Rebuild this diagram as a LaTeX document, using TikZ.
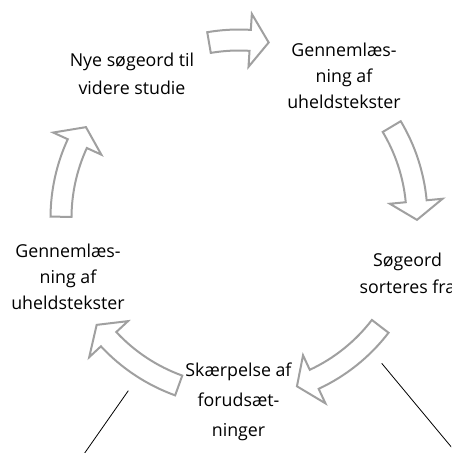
\documentclass[tikz,border=0pt]{standalone}
\usepackage{fontspec}
\setmainfont{Open Sans}
\usetikzlibrary{calc}
\definecolor{arrowgray}{RGB}{160,160,160}
\tikzset{
  blockarrow/.style={draw=arrowgray, fill=white, line width=2pt, line join=miter},
  lbl/.style={align=center, font=\fontsize{17.8}{27}\selectfont, inner sep=0pt, anchor=base},
  thinline/.style={draw=black, line width=0.8pt}
}
\newcommand{\cycarrow}[2]{%
  \pgfmathsetmacro\cycS{90-(#1)}%
  \pgfmathsetmacro\cycT{90-(#2)}%
  \pgfmathsetmacro\cycH{90-(#2)+6}%
  \draw[blockarrow] ($(C)+(\cycS:188.5)$) arc[start angle=\cycS, end angle=\cycH, radius=188.5]
    -- ($(C)+(\cycH:204.5)$) -- ($(C)+(\cycT:178)$) -- ($(C)+(\cycH:151.5)$)
    -- ($(C)+(\cycH:167.5)$) arc[start angle=\cycH, end angle=\cycS, radius=167.5] -- cycle;}
\begin{document}
\begin{tikzpicture}[x=1pt,y=1pt]
\useasboundingbox (0,0) rectangle (451,453);
\clip (0,0) rectangle (451,453);
\coordinate (C) at (239,235);
% connector lines (free ends leave the picture)
\coordinate (la) at (128.3,62.3);
\coordinate (lb) at (84.7,0);
\coordinate (ra) at (381.7,89.7);
\coordinate (rb) at (456.3,0);
\draw[thinline] (la) -- (lb);
\draw[thinline] (ra) -- (rb);
% cycle arrows
\cycarrow{-9.7}{9.6}
\cycarrow{59.1}{90.6}
\cycarrow{127.5}{161}
\cycarrow{199.8}{233.1}
\cycarrow{270.4}{300.7}
% texts (base anchor = baseline of the last line)
\node[lbl, font=\fontsize{17.8}{28.5}\selectfont] (n1) at (132,358) {Nye søgeord til\\videre studie};
\node[lbl, font=\fontsize{17.8}{26}\selectfont] (n2) at (344,344.7) {Gennemlæs-\\ning af\\uheldstekster};
\node[lbl, font=\fontsize{17.8}{26.7}\selectfont] (n3) at (407.5,159.7) {Søgeord\\sorteres fra};
\node[lbl, font=\fontsize{17.8}{30}\selectfont] (n4) at (238.5,16.3) {Skærpelse af\\forudsæt-\\ninger};
\node[lbl, font=\fontsize{17.8}{26.4}\selectfont] (n5) at (68,143) {Gennemlæs-\\ning af\\uheldstekster};
\end{tikzpicture}
\end{document}
